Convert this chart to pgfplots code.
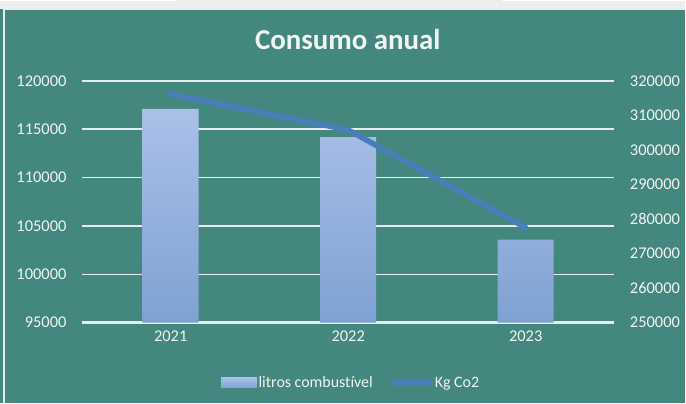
\documentclass[border=0pt]{standalone}
\usepackage{pgfplots}
\pgfplotsset{compat=1.18}
\usepackage{fontspec}
\setmainfont{Carlito}[Ligatures={NoCommon}]
\definecolor{bg}{RGB}{68,135,127}
\definecolor{topgray}{RGB}{236,239,238}
\definecolor{barTop}{RGB}{170,192,232}
\definecolor{barBot}{RGB}{127,162,210}
\definecolor{lineC}{RGB}{74,126,187}
\definecolor{txt}{RGB}{240,244,243}
\definecolor{gridC}{RGB}{230,236,235}
\begin{document}
\begin{tikzpicture}[x=1bp,y=1bp]
\fill[bg] (0,0) rectangle (686,402);
\fill[topgray] (0,394) rectangle (686,402);
\draw[gridC, line width=1bp] (178,393.5) rectangle (502,402.5);
\draw[gridC, line width=1.2bp] (4,0) -- (4,393.5) -- (686,393.5);
\node[anchor=base, text=txt, font=\bfseries\fontsize{29}{34}\selectfont] at (348,353) {Consumo anual};
\begin{axis}[
  at={(82bp,80bp)}, anchor=south west, scale only axis,
  width=533bp, height=242bp,
  xmin=-0.5, xmax=2.5, ymin=95000, ymax=120000,
  xtick={0,1,2}, xticklabels={2021,2022,2023},
  ytick={95000,100000,...,120000},
  axis y line*=left, axis x line*=bottom,
  y axis line style={draw=none},
  x axis line style={gridC, line width=2.6bp, -},
  tick style={draw=none}, major tick length=0pt,
  ymajorgrids, grid style={gridC, line width=1.6bp},
  ticklabel style={font=\fontsize{16.5}{19}\selectfont, text=txt},
  /pgf/number format/fixed,
  /pgf/number format/assume math mode=true,
  /pgf/number format/1000 sep={},
  yticklabel shift=12bp, xticklabel shift=5bp,
  scaled y ticks=false,
]
\addplot[ybar, bar width=56bp, draw=none, top color=barTop, bottom color=barBot] coordinates {(0,117100) (1,114200) (2,103600)};
\end{axis}
\begin{axis}[
  at={(82bp,80bp)}, anchor=south west, scale only axis,
  width=533bp, height=242bp,
  xmin=-0.5, xmax=2.5, ymin=250000, ymax=320000,
  ytick={250000,260000,...,320000},
  axis y line*=right, hide x axis,
  y axis line style={draw=none},
  tick style={draw=none}, major tick length=0pt,
  ticklabel style={font=\fontsize{16.5}{19}\selectfont, text=txt},
  /pgf/number format/fixed,
  /pgf/number format/assume math mode=true,
  /pgf/number format/1000 sep={},
  yticklabel shift=12bp,
  scaled y ticks=false,
  legend columns=2,
  legend style={at={(0.505,-0.248)}, anchor=center, draw=none, fill=none,
    text=txt, font=\fontsize{16}{19}\selectfont,
    nodes={inner xsep=1.5bp},
    /tikz/every even column/.append style={column sep=18bp}},
]
\addlegendimage{legend image code/.code={\path[draw=none, top color=barTop, bottom color=barBot] (0bp,-5bp) rectangle (36bp,5bp);}}
\addlegendentry{litros combustível}
\addplot[lineC, line width=5.5bp, line cap=round, mark=none,
  legend image code/.code={\draw[lineC, line width=6bp, line cap=round] (3bp,0bp) -- (38bp,0bp);}]
  coordinates {(0,316200) (1,305800) (2,277500)};
\addlegendentry{Kg Co2}
\end{axis}
\end{tikzpicture}
\end{document}
